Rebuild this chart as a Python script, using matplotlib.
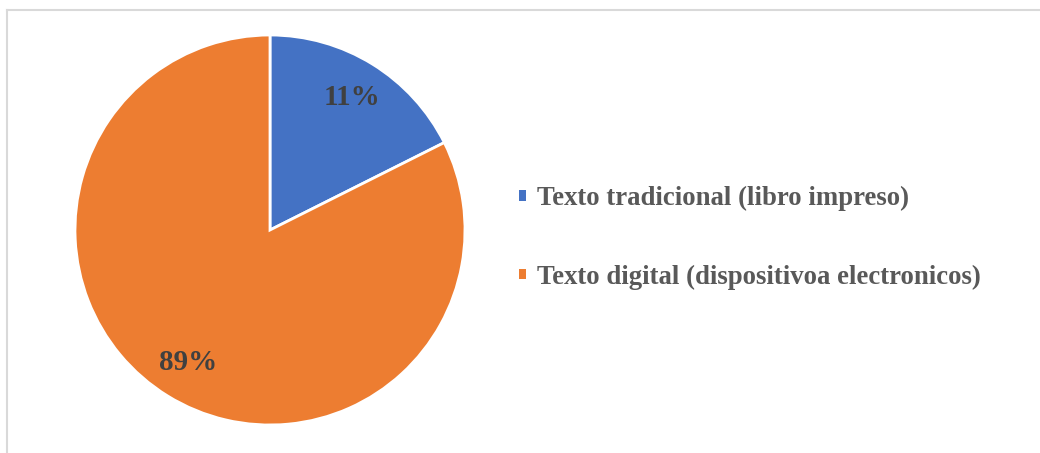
import matplotlib
matplotlib.use("Agg")
import matplotlib.pyplot as plt
from matplotlib.lines import Line2D

categories = ["Texto tradicional (libro impreso)", "Texto digital (dispositivoa electronicos)"]
slice_values = [17.6, 82.4]          # slice sizes as drawn
label_texts = ["11%", "89%"]         # labels as printed
colors = ["#4472C4", "#ED7D31"]

W, H = 1040, 453
fig = plt.figure(figsize=(W / 100, H / 100), dpi=100)
plt.rcParams['font.family'] = ['Liberation Serif', 'DejaVu Serif']

cx, cy, R = 270, 230, 195
ax = fig.add_axes([(cx - R) / W, (H - cy - R) / H, 2 * R / W, 2 * R / H])
wedges, texts = ax.pie(slice_values, colors=colors, startangle=90, counterclock=False,
                       labels=label_texts, labeldistance=0.8,
                       wedgeprops=dict(edgecolor="white", linewidth=2))
for t in texts:
    t.set_ha("center")
    t.set_va("center")
    t.set_fontsize(21)
    t.set_fontweight("bold")
    t.set_color("#404040")
ax.set_xlim(-1, 1)
ax.set_ylim(-1, 1)
ax.set_aspect("equal")
ax.axis("off")

leg = fig.legend(wedges, categories, loc="center left",
                 bbox_to_anchor=(519 / W, 1 - 238 / H), frameon=False,
                 prop=dict(family="Liberation Serif", weight="bold", size=19.3),
                 handlelength=0.27, handleheight=0.22, handletextpad=0.42,
                 labelspacing=2.0, borderpad=0, borderaxespad=0)
for t in leg.get_texts():
    t.set_color("#595959")
for h in leg.legend_handles:
    h.set_edgecolor("none")

# chart area border (top and left visible)
fig.add_artist(Line2D([7 / W, 1], [1 - 10 / H, 1 - 10 / H], color="#D9D9D9", lw=1.5,
                      transform=fig.transFigure))
fig.add_artist(Line2D([7 / W, 7 / W], [1 - 10 / H, 0], color="#D9D9D9", lw=1.5,
                      transform=fig.transFigure))

fig.savefig("out.png", dpi=100, facecolor="white")
